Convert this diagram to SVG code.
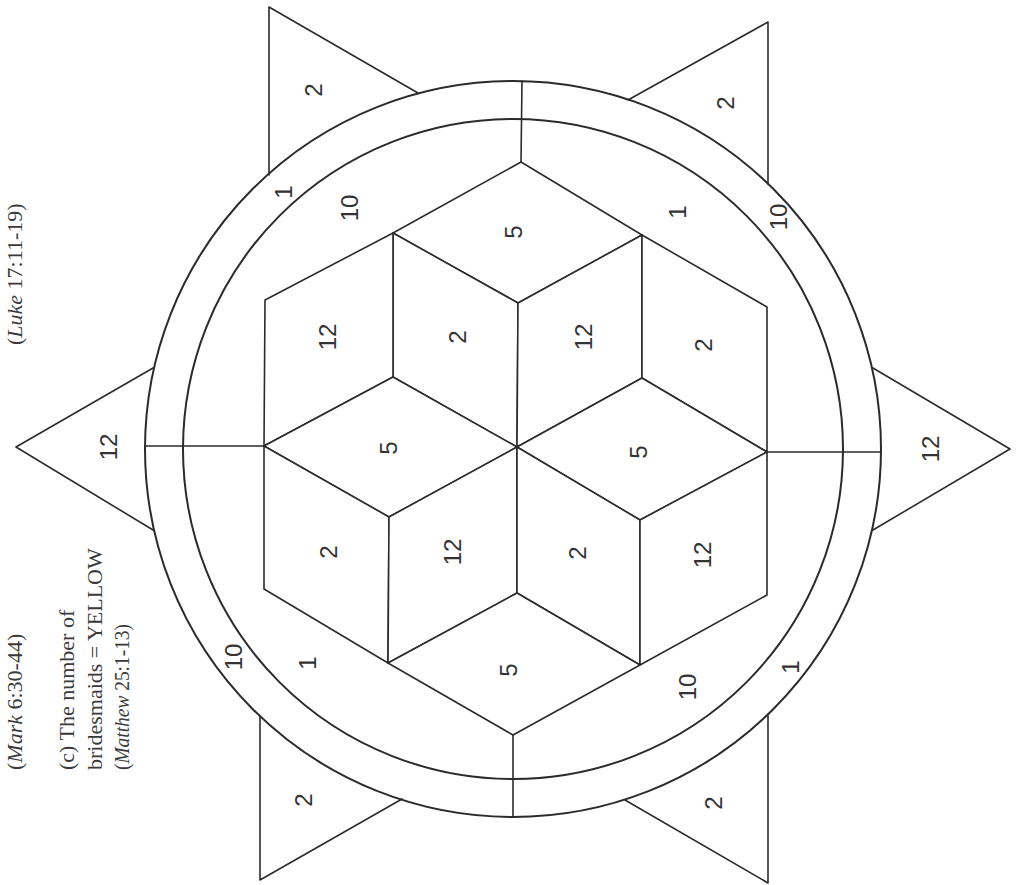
<svg xmlns="http://www.w3.org/2000/svg" width="1024" height="885" viewBox="0 0 1024 885">
<style>
.ln{fill:none;stroke:#2b2b2b;stroke-width:1.6;stroke-linejoin:round;stroke-linecap:round}
.cl{fill:none;stroke:#2b2b2b;stroke-width:2}
.rh{fill:#ffffff;stroke:#2b2b2b;stroke-width:1.6;stroke-linejoin:round}
.n{font-family:"Liberation Sans",Arial,sans-serif;font-size:24px;fill:#333;text-anchor:middle;dominant-baseline:central}
.cap{font-family:"Liberation Serif","Times New Roman",serif;font-size:22px;fill:#3a3a3a}
.it{font-style:italic}
</style>
<rect width="1024" height="885" fill="#ffffff"/>

<g id="captions">
<text class="cap" transform="translate(22,770) rotate(-90)">(<tspan class="it">Mark</tspan> 6:30-44)</text>
<text class="cap" transform="translate(22,345) rotate(-90)">(<tspan class="it">Luke</tspan> 17:11-19)</text>
<text class="cap" transform="translate(74,770) rotate(-90)">(c) The number of</text>
<text class="cap" transform="translate(102,770) rotate(-90)">bridesmaids = YELLOW</text>
<text class="cap" transform="translate(129,770) rotate(-90)" textLength="146" lengthAdjust="spacingAndGlyphs">(<tspan class="it">Matthew</tspan> 25:1-13)</text>
</g>

<g id="connectors">
<polyline class="ln" points="269,175 269,7 418,93"/>
<polyline class="ln" points="628,100 768,22 768,184"/>
<polyline class="ln" points="153.5,367.7 16,447 153.5,530.3"/>
<polyline class="ln" points="872.5,367.7 1010,449 872.5,530.3"/>
<polyline class="ln" points="260,716 260,880 402,799"/>
<polyline class="ln" points="625,800 768,883 768,714"/>
<circle class="cl" cx="513" cy="449" r="368"/>
<circle class="cl" cx="513" cy="449" r="330"/>
<line class="ln" x1="522" y1="81" x2="521" y2="162"/>
<line class="ln" x1="145" y1="446" x2="264" y2="446"/>
<line class="ln" x1="767" y1="452" x2="881" y2="452"/>
<line class="ln" x1="513" y1="735" x2="513" y2="817"/>
</g>

<g id="triangle-labels">
<text class="n" transform="translate(313,90) rotate(-90)">2</text>
<text class="n" transform="translate(725,103) rotate(-90)">2</text>
<text class="n" transform="translate(108,447) rotate(-90)">12</text>
<text class="n" transform="translate(930,449) rotate(-90)">12</text>
<text class="n" transform="translate(303,800) rotate(-90)">2</text>
<text class="n" transform="translate(713,803) rotate(-90)">2</text>
</g>

<g id="ring-labels">
<text class="n" transform="translate(283,192) rotate(-90)">1</text>
<text class="n" transform="translate(778,217) rotate(-90)">10</text>
<text class="n" transform="translate(233,657) rotate(-90)">10</text>
<text class="n" transform="translate(790,667) rotate(-90)">1</text>
</g>

<g id="inner-labels">
<text class="n" transform="translate(349,208) rotate(-90)">10</text>
<text class="n" transform="translate(677,212) rotate(-90)">1</text>
<text class="n" transform="translate(307,663) rotate(-90)">1</text>
<text class="n" transform="translate(687,687) rotate(-90)">10</text>
</g>

<g id="rh1"><polygon class="rh" points="521,162 642,235 518,303 393,233"/><text class="n" transform="translate(513,232) rotate(-90)">5</text></g>
<g id="rh2"><polygon class="rh" points="393,233 518,303 517,447 393,377"/><text class="n" transform="translate(457,337) rotate(-90)">2</text></g>
<g id="rh3"><polygon class="rh" points="265,300 393,233 393,377 264,446"/><text class="n" transform="translate(327,337) rotate(-90)">12</text></g>
<g id="rh4"><polygon class="rh" points="518,303 642,235 642,378 517,447"/><text class="n" transform="translate(583,337) rotate(-90)">12</text></g>
<g id="rh5"><polygon class="rh" points="642,235 767,307 767,452 642,378"/><text class="n" transform="translate(703,345) rotate(-90)">2</text></g>
<g id="rh6"><polygon class="rh" points="393,377 517,447 389,517 264,446"/><text class="n" transform="translate(388,448) rotate(-90)">5</text></g>
<g id="rh7"><polygon class="rh" points="642,378 767,452 640,520 517,447"/><text class="n" transform="translate(638,452) rotate(-90)">5</text></g>
<g id="rh8"><polygon class="rh" points="264,446 389,517 388,663 264,589"/><text class="n" transform="translate(328,552) rotate(-90)">2</text></g>
<g id="rh9"><polygon class="rh" points="389,517 517,447 517,593 388,663"/><text class="n" transform="translate(452,552) rotate(-90)">12</text></g>
<g id="rh10"><polygon class="rh" points="517,447 640,520 640,665 517,593"/><text class="n" transform="translate(577,553) rotate(-90)">2</text></g>
<g id="rh11"><polygon class="rh" points="640,520 767,452 767,595 640,665"/><text class="n" transform="translate(702,555) rotate(-90)">12</text></g>
<g id="rh12"><polygon class="rh" points="517,593 640,665 513,735 388,663"/><text class="n" transform="translate(508,670) rotate(-90)">5</text></g>
</svg>
